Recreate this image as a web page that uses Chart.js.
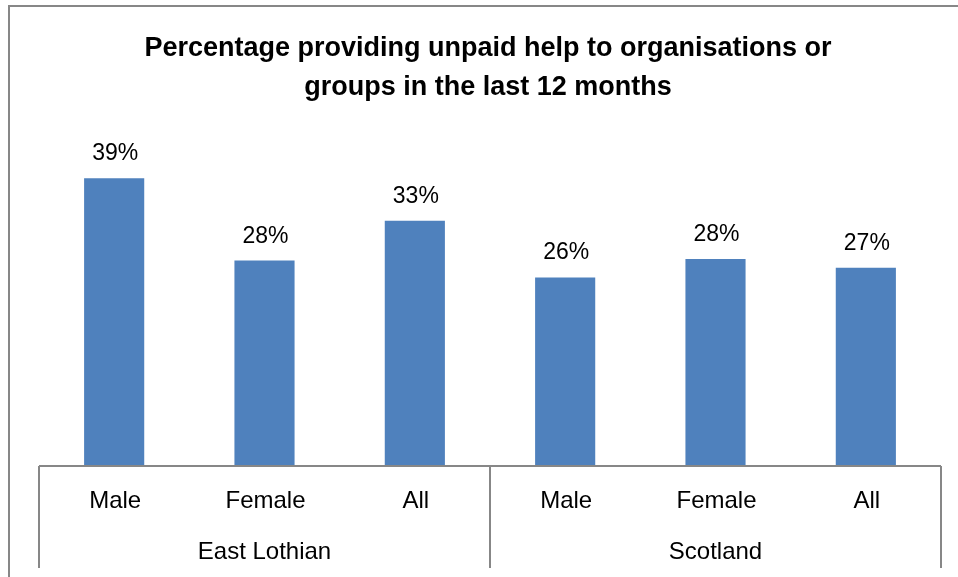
<!DOCTYPE html>
<html>
<head>
<meta charset="utf-8">
<script src="https://cdn.jsdelivr.net/npm/chart.js@4/dist/chart.umd.min.js"></script>
<style>
  html, body { margin: 0; padding: 0; background: #ffffff; }
  #wrap { width: 958px; height: 577px; position: relative; }
</style>
</head>
<body>
<div id="wrap"><canvas id="c" width="958" height="577"></canvas></div>
<script>
const titleLines = ["Percentage providing unpaid help to organisations or", "groups in the last 12 months"];
const categories = ["Male", "Female", "All", "Male", "Female", "All"];
const groups = ["East Lothian", "Scotland"];
const groupSizes = [3, 3];
const values = [39.0, 27.8, 33.2, 25.5, 28.0, 26.8];

const FONT = "'Liberation Sans', Arial, sans-serif";
const GRAY = '#878787';

const decorPlugin = {
  id: 'decor',
  afterDatasetsDraw(chart) {
    const ctx = chart.ctx;
    const meta = chart.getDatasetMeta(0);
    ctx.save();
    ctx.fillStyle = '#000';
    ctx.font = '23px ' + FONT;
    ctx.textAlign = 'center';
    ctx.textBaseline = 'alphabetic';
    meta.data.forEach((bar, i) => {
      ctx.fillText(Math.round(values[i]) + '%', bar.x + 1, bar.y - 18);
    });
    ctx.restore();
  },
  afterDraw(chart) {
    const ctx = chart.ctx;
    const area = chart.chartArea;
    const xs = chart.scales.x;
    ctx.save();
    // title
    ctx.fillStyle = '#000';
    ctx.textAlign = 'center';
    ctx.textBaseline = 'alphabetic';
    ctx.font = 'bold 27px ' + FONT;
    ctx.fillText(titleLines[0], 488, 56, 695);
    ctx.fillText(titleLines[1], 488, 95, 377);

    // axis box
    ctx.strokeStyle = GRAY;
    ctx.lineWidth = 2;
    const yAxis = area.bottom + 1;
    const yEnd = 568;
    ctx.beginPath();
    ctx.moveTo(area.left, yAxis);
    ctx.lineTo(area.right, yAxis);
    let idx = 0;
    const half = (xs.getPixelForValue(1) - xs.getPixelForValue(0)) / 2;
    const bounds = [xs.getPixelForValue(0) - half];
    groupSizes.forEach(n => { idx += n; bounds.push(xs.getPixelForValue(idx - 1) + half); });
    bounds.forEach(bx => {
      ctx.moveTo(bx, yAxis);
      ctx.lineTo(bx, yEnd);
    });
    ctx.stroke();

    // category labels
    ctx.font = '24px ' + FONT;
    categories.forEach((c, i) => {
      ctx.fillText(c, xs.getPixelForValue(i) + 1, 508);
    });
    // group labels
    groups.forEach((g, gi) => {
      ctx.fillText(g, (bounds[gi] + bounds[gi + 1]) / 2, 559);
    });

    // outer border
    ctx.strokeStyle = GRAY;
    ctx.lineWidth = 2;
    ctx.strokeRect(9, 6, 980, 600);
    ctx.restore();
  }
};

new Chart(document.getElementById('c'), {
  type: 'bar',
  data: {
    labels: categories,
    datasets: [{
      data: values,
      backgroundColor: '#4F81BD',
      borderWidth: 0,
      barPercentage: 0.4,
      categoryPercentage: 1.0
    }]
  },
  options: {
    responsive: false,
    animation: false,
    layout: { padding: { left: 39, right: 17, top: 134, bottom: 112 } },
    plugins: { legend: { display: false }, tooltip: { enabled: false }, title: { display: false } },
    scales: {
      x: { display: false },
      y: { display: false, min: 0, max: 45 }
    }
  },
  plugins: [decorPlugin]
});
</script>
</body>
</html>
